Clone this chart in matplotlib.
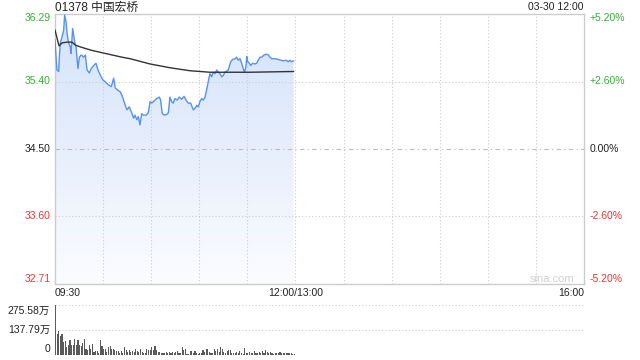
import numpy as np
import matplotlib
matplotlib.use("Agg")
import matplotlib.pyplot as plt
import matplotlib.transforms as mtransforms
from matplotlib.colors import LinearSegmentedColormap

plt.rcParams['font.family'] = ['Liberation Sans', 'Noto Sans CJK SC']

# ---- data ----
title = "01378 中国宏桥"
stamp = "03-30 12:00"
prev_close = 34.50
pct_levels = [5.2, 2.6, 0.0, -2.6, -5.2]
time_labels = ["09:30", "12:00/13:00", "16:00"]

# minutes after 09:30 (lunch break squeezed out), last price
minutes = [0, 1.2, 2.3, 2.7, 3.3, 4.4, 5.4, 6.0, 6.9, 7.5, 8.5, 9.5, 10.0, 11.0,
           12.3, 13.1, 14.3, 15.2, 16.4, 17.9, 18.9, 20.0, 21.4, 22.6, 24.1,
           25.6, 26.8, 28.3, 29.8, 31.4, 33.5, 35.1, 36.6, 37.6, 39.3, 40.7,
           42.2, 43.8, 44.9, 46.3, 47.7, 49.0, 49.9, 51.0, 52.0, 53.0, 54.1,
           55.1, 56.8, 58.2, 59.3, 60.3, 62.4, 63.4, 65.1, 65.9, 66.9, 68.2,
           69.7, 70.7, 71.7, 72.8, 73.8, 74.8, 76.3, 77.5, 79.0, 80.5, 81.7,
           83.1, 84.6, 86.3, 87.3, 88.4, 89.4, 90.4, 91.5, 92.5, 93.6, 95.0,
           96.0, 96.7, 97.7, 98.7, 99.8, 100.9, 101.9, 102.9, 104.0, 105.0,
           106.0, 108.1, 109.6, 110.8, 112.3, 113.3, 114.3, 115.4, 116.4,
           117.4, 118.2, 119.1, 119.6, 120.2, 121.2, 122.1, 123.3, 124.7,
           125.8, 126.8, 127.9, 128.9, 130.4, 132.0, 133.0, 134.1, 135.2,
           137.2, 139.3, 140.8, 142.4, 144.1, 145.5, 146.6, 147.6, 148.8]
price = [35.95, 35.55, 35.53, 35.72, 35.91, 35.99, 36.08, 36.28, 36.19, 36.04,
         35.91, 35.86, 35.77, 36.10, 35.92, 35.86, 35.57, 35.72, 35.75, 35.72,
         35.75, 35.55, 35.51, 35.57, 35.61, 35.64, 35.55, 35.48, 35.42, 35.39,
         35.35, 35.33, 35.44, 35.31, 35.28, 35.26, 35.19, 35.08, 35.02, 35.06,
         34.99, 34.91, 34.95, 34.89, 34.93, 34.82, 34.97, 34.95, 34.95, 34.98,
         35.13, 35.11, 35.15, 35.17, 35.19, 35.15, 34.97, 34.95, 34.96, 34.98,
         35.19, 35.13, 35.11, 35.17, 35.15, 35.19, 35.16, 35.20, 35.15, 35.11,
         35.11, 35.02, 35.04, 35.08, 35.06, 35.13, 35.17, 35.15, 35.19, 35.33,
         35.44, 35.50, 35.46, 35.52, 35.50, 35.55, 35.52, 35.50, 35.46, 35.48,
         35.52, 35.55, 35.66, 35.69, 35.70, 35.72, 35.68, 35.70, 35.64, 35.57,
         35.52, 35.59, 35.73, 35.66, 35.64, 35.61, 35.64, 35.63, 35.64, 35.68,
         35.72, 35.72, 35.75, 35.76, 35.75, 35.72, 35.70, 35.70, 35.69, 35.68,
         35.67, 35.68, 35.66, 35.68, 35.66, 35.67]

avg_minutes = [0, 2.5, 4.4, 7.5, 10.6, 12.7, 16.8, 23, 29.3, 35.5, 41.8, 46.8,
               59.3, 71.7, 84.2, 96.7, 121.6, 148.8]
avg_price = [36.08, 35.87, 35.91, 35.92, 35.92, 35.88, 35.85, 35.81, 35.78,
             35.75, 35.72, 35.70, 35.63, 35.58, 35.54, 35.52, 35.52, 35.53]

# volume per minute, in 万 shares
volume = [275.58, 116, 130, 101, 116, 70, 75, 42, 51, 83,
          51, 51, 88, 51, 79, 51, 46, 64, 88, 33,
          24, 51, 33, 57, 15, 18, 20, 8, 83, 46,
          33, 33, 15, 39, 46, 33, 28, 24, 18, 20,
          6, 20, 9, 39, 24, 15, 24, 13, 20, 15,
          28, 20, 15, 33, 15, 9, 6, 28, 24, 24,
          39, 24, 46, 24, 15, 15, 9, 6, 9, 13,
          9, 15, 11, 15, 9, 15, 20, 7, 11, 42,
          24, 29, 5, 2, 18, 18, 6, 18, 11, 5,
          9, 11, 24, 15, 29, 28, 15, 11, 6, 29,
          20, 28, 15, 42, 28, 15, 9, 20, 24, 24,
          6, 11, 6, 15, 6, 20, 6, 4, 37, 6,
          9, 15, 6, 9, 20, 9, 6, 15, 9, 20,
          6, 24, 13, 11, 15, 6, 4, 6, 6, 11,
          15, 6, 6, 9, 6, 6, 6, 6, 5, 4]
vol_max = 275.58

GREEN = '#33b233'
RED = '#ee3333'
GRID = '#cccccc'

levels = [prev_close * (1 + p / 100) for p in pct_levels]
ymax, ymin = levels[0], levels[-1]

fig = plt.figure(figsize=(6.4, 3.6), dpi=100)
ax = fig.add_axes([55 / 640, 1 - 284 / 360, 529 / 640, 270 / 360])
vax = fig.add_axes([55 / 640, 1 - 354.5 / 360, 529 / 640, 49.5 / 360])

# gradient area under the price line
poly = ax.fill_between(minutes, price, ymin, color='none', lw=0)
cmap = LinearSegmentedColormap.from_list('fade', ['#fbfcff', '#d3e2fa'])
grad = np.linspace(0, 1, 256).reshape(-1, 1)
im = ax.imshow(grad, extent=[0, 330, ymin, ymax], origin='lower',
               aspect='auto', cmap=cmap, zorder=1)
im.set_clip_path(poly.get_paths()[0], transform=ax.transData)

ax.plot(minutes, price, color='#5592f2', lw=1.0, zorder=3)
ax.plot(avg_minutes, avg_price, color='#333333', lw=1.0, zorder=4)

ax.set_xlim(0, 330)
ax.set_ylim(ymin, ymax)
for m in range(30, 330, 30):
    ax.axvline(m, color=GRID, lw=0.8, ls=(0, (1, 2)), zorder=2)
for lv, p in zip(levels[1:-1], pct_levels[1:-1]):
    if p == 0:
        ax.axhline(lv, color='#bbbbbb', lw=0.8, ls=(0, (4, 3, 1, 3)), zorder=2)
    else:
        ax.axhline(lv, color=GRID, lw=0.8, ls=(0, (1, 2)), zorder=2)
ax.set_xticks([])
ax.set_yticks([])
for s in ax.spines.values():
    s.set_color(GRID)
    s.set_linewidth(1.0)

# price / percent labels
ytr = ax.get_yaxis_transform()
for i, (lv, p) in enumerate(zip(levels, pct_levels)):
    col = GREEN if p > 0 else (RED if p < 0 else '#222222')
    dy = 0
    if i == 0:
        dy = -4
    elif i == len(levels) - 1:
        dy = 5
    tr_l = mtransforms.offset_copy(ytr, fig=fig, x=-4, y=dy, units='dots')
    tr_r = mtransforms.offset_copy(ytr, fig=fig, x=6, y=dy, units='dots')
    sign = '+' if p > 0 else ''
    ax.text(0, lv, f"{lv:.2f}", transform=tr_l, ha='right', va='center',
            color=col, fontsize=7.5)
    ax.text(1, lv, f"{sign}{p:.2f}%", transform=tr_r, ha='left', va='center',
            color=col, fontsize=7.5)

# time labels
xtr = mtransforms.offset_copy(ax.get_xaxis_transform(), fig=fig, y=-9, units='dots')
ax.text(0, 0, time_labels[0], transform=xtr, ha='left', va='center', fontsize=7.5, color='#222222')
ax.text(150, 0, time_labels[1], transform=xtr, ha='center', va='center', fontsize=7.5, color='#222222')
ax.text(330, 0, time_labels[2], transform=xtr, ha='right', va='center', fontsize=7.5, color='#222222')

fig.text(55 / 640, 1 - 7.5 / 360, title, ha='left', va='center', fontsize=8.5, color='#222222')
fig.text(584 / 640, 1 - 7.5 / 360, stamp, ha='right', va='center', fontsize=7.5, color='#222222')
ax.text(0.94, 0.02, "sina.com", transform=ax.transAxes, ha='center', va='center',
        fontsize=8, color='#d0d0d0')

# volume panel
vax.bar(np.arange(len(volume)), volume, width=0.7, align='edge',
        color='#5a5a5a', lw=0, antialiased=False)
vax.set_xlim(0, 330)
vax.set_ylim(0, vol_max)
for v in [vol_max / 2, vol_max]:
    vax.axhline(v, color=GRID, lw=0.8, ls=(0, (1, 2)), zorder=0)
vax.set_xticks([])
vax.set_yticks([])
for s in vax.spines.values():
    s.set_visible(False)
vtr = vax.get_yaxis_transform()
vol_labels = [(vol_max, f"{vol_max:.2f}万", -6), (vol_max / 2, f"{vol_max / 2:.2f}万", 0), (0, "0", 6)]
for v, lab, dy in vol_labels:
    tr = mtransforms.offset_copy(vtr, fig=fig, x=-5, y=dy, units='dots')
    vax.text(0, v, lab, transform=tr, ha='right', va='center', fontsize=7.5, color='#222222')

fig.savefig("out.png", dpi=100)
